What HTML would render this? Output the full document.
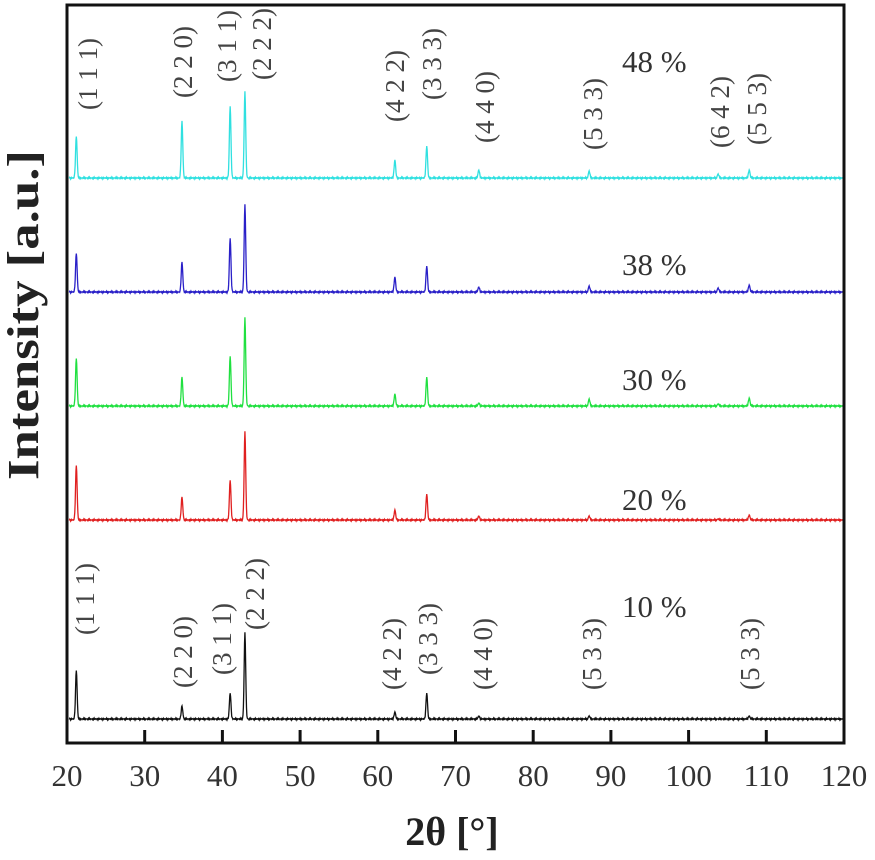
<!DOCTYPE html>
<html><head><meta charset="utf-8"><style>
html,body{margin:0;padding:0;background:#fff;width:875px;height:860px;overflow:hidden}
svg text{font-family:"Liberation Serif",serif}
</style></head><body>
<svg id="chart" width="875" height="860" viewBox="0 0 875 860" xmlns="http://www.w3.org/2000/svg">
<g id="plot"></g>
<g id="axes"></g>
<text transform="translate(38,315) rotate(-90)" text-anchor="middle" font-size="44" font-weight="bold" fill="#222" textLength="330" lengthAdjust="spacingAndGlyphs">Intensity [a.u.]</text>
<text x="452" y="845" text-anchor="middle" font-size="40" font-weight="bold" fill="#222">2θ [°]</text>
</svg>
<script>
const xTicks=[20,30,40,50,60,70,80,90,100,110,120];
const peakPos=[21.2,34.8,41.0,42.9,62.2,66.3,73.0,87.2,103.8,107.8];
const seriesNames=["10 %","20 %","30 %","38 %","48 %"];
const seriesColors=["#111111","#e02020","#20e040","#2a20c8","#30e0e0"];
const seriesOffsets=[0,199,313,427,541];
const h10=[49,13,26,86,7,26,3,3,0,3];
const h20=[55,23,40,88,10,26,4,4,1,5];
const h30=[48,29,50,88,12,29,3,7,2,8];
const h38=[39,30,54,87,15,26,5,6,4,7];
const h48=[42,57,72,86,18,32,8,7,4,8];
const heights=[h10,h20,h30,h38,h48];
const topLabels=["(1 1 1)","(2 2 0)","(3 1 1)","(2 2 2)","(4 2 2)","(3 3 3)","(4 4 0)","(5 3 3)","(6 4 2)","(5 5 3)"];
const bottomLabels=["(1 1 1)","(2 2 0)","(3 1 1)","(2 2 2)","(4 2 2)","(3 3 3)","(4 4 0)","(5 3 3)","(5 3 3)"];

const L=67,R=844,T=5,B=743,Y0=719;
const NS="http://www.w3.org/2000/svg";
const xs=v=>L+(v-20)*(R-L)/100;
const ys=v=>Y0-v;
function mk(t,a,p){const e=document.createElementNS(NS,t);for(const k in a)e.setAttribute(k,a[k]);p.appendChild(e);return e;}
const plot=document.getElementById('plot'),axes=document.getElementById('axes');
const pctY=[617,510,390,275,72];

seriesNames.forEach((nm,si)=>{
  let d="";
  for(let x=20.3;x<=120;x+=0.05){
    let y=0;
    peakPos.forEach((p,i)=>{const w=0.1;y+=heights[si][i]*Math.exp(-((x-p)*(x-p))/(2*w*w));});
    y+=0.9*Math.sin(x*37.1)*Math.sin(x*5.3);
    d+=(d?"L":"M")+xs(x).toFixed(2)+","+ys(seriesOffsets[si]+y).toFixed(2);
  }
  const p=mk('path',{d:d,fill:"none",stroke:seriesColors[si],"stroke-width":1.3},plot);
  
  
  const t=mk('text',{x:622,y:pctY[si],"font-size":31,fill:"#333"},plot);
  t.textContent=nm;
  
  
});

const topLabelX=[88,183,227,262,395,432,485,593,720,757];
const topLabelB=[110,98,82,80,122,100,143,150,148,145];
topLabels.forEach((s,i)=>{
  const t=mk('text',{transform:`translate(${topLabelX[i]+9},${topLabelB[i]}) rotate(-90)`,"font-size":27,fill:"#444"},plot);
  t.textContent=s;
  
  
});
const botLabelX=[85,183,222,255,392,428,483,592,750];
const botLabelB=[635,688,675,630,690,675,690,690,690];
bottomLabels.forEach((s,i)=>{
  const t=mk('text',{transform:`translate(${botLabelX[i]+9},${botLabelB[i]}) rotate(-90)`,"font-size":27,fill:"#444"},plot);
  t.textContent=s;
  
  
});

const fr=mk('rect',{x:L,y:T,width:R-L,height:B-T,fill:"none",stroke:"#111","stroke-width":3},axes);


xTicks.forEach(v=>{
  const l=mk('line',{x1:xs(v),x2:xs(v),y1:B,y2:B-13,stroke:"#111","stroke-width":3},axes);
  
  
  const t=mk('text',{x:xs(v),y:786,"text-anchor":"middle","font-size":31,fill:"#333"},axes);
  t.textContent=v;
  
  
});
</script>
</body></html>
